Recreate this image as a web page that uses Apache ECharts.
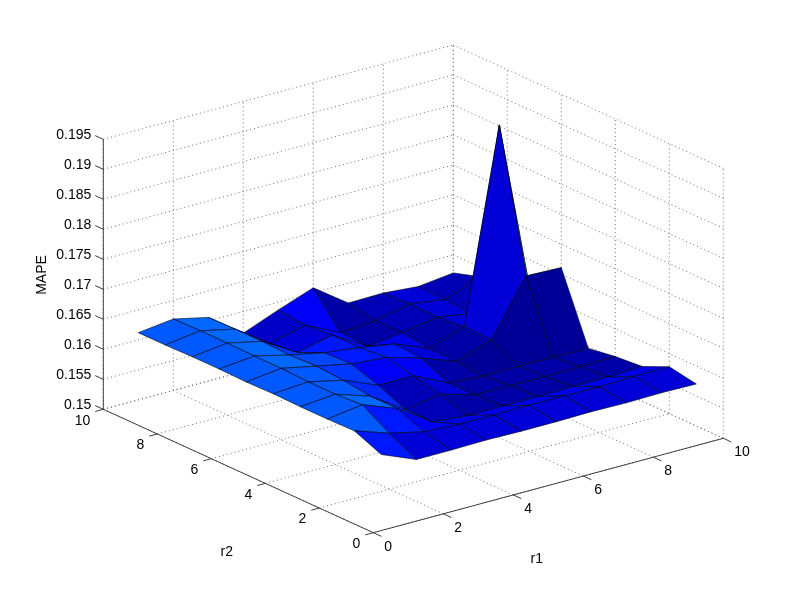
<!DOCTYPE html>
<html><head><meta charset="utf-8">
<style>html,body{margin:0;padding:0;background:#fff}#c{width:799px;height:599px}</style>
<script src="https://cdn.jsdelivr.net/npm/echarts@6/dist/echarts.min.js"></script>
</head><body><div id="c"></div>
<script>
// Axis ticks
const r1Ticks=[0,2,4,6,8,10];
const r2Ticks=[0,2,4,6,8,10];
const zTicks=[0.15,0.155,0.16,0.165,0.17,0.175,0.18,0.185,0.19,0.195];
const zTickLabels=['0.15','0.155','0.16','0.165','0.17','0.175','0.18','0.185','0.19','0.195'];
const r1Values=[1,2,3,4,5,6,7,8,9,10];
const r2Values=[1,2,3,4,5,6,7,8,9,10];
// MAPE for each r1, listed for r2 = 1..10
const mapeR1_1=[.1594,.1613,.1612,.1612,.1613,.1612,.1613,.1613,.1612,.1612];
const mapeR1_2=[.157,.1593,.162,.1617,.1617,.1619,.1619,.162,.162,.1619];
const mapeR1_3=[.157,.158,.1598,.1598,.1604,.1607,.1605,.1607,.1607,.1606];
const mapeR1_4=[.1571,.1577,.156,.156,.158,.1595,.1593,.1573,.1567,.1564];
const mapeR1_5=[.157,.1576,.1555,.157,.158,.159,.1586,.1586,.1582,.1587];
const mapeR1_6=[.157,.1577,.1555,.1553,.1552,.1573,.1576,.1552,.1554,.1608];
const mapeR1_7=[.1571,.1577,.1555,.1553,.1548,.1552,.1553,.1559,.1558,.1567];
const mapeR1_8=[.157,.1576,.1556,.1552,.1549,.1572,.1573,.1569,.157,.1568];
const mapeR1_9=[.1571,.1578,.1556,.1553,.1548,.1663,.1894,.1559,.1562,.1563];
const mapeR1_10=[.157,.1578,.1558,.1554,.1547,.1661,.1565,.154,.1584,.157];
const mape=[mapeR1_1,mapeR1_2,mapeR1_3,mapeR1_4,mapeR1_5,mapeR1_6,mapeR1_7,mapeR1_8,mapeR1_9,mapeR1_10];

// Orthographic view of the 3D box
const view={ox:373.3,oy:532.7,r1x:35,r1y:-9.44,r2x:-27,r2y:-12.34,zy:-6000,z0:0.15};
function project(r1,r2,z){
  return [view.ox+view.r1x*r1+view.r2x*r2, view.oy+view.r1y*r1+view.r2y*r2+view.zy*(z-view.z0)];
}
// jet colormap, 64 levels
function jet(t){
  t=Math.max(0,Math.min(1,t));
  t=(Math.min(63,Math.floor(t*64))+0.5)/64;
  const f=v=>Math.round(255*Math.max(0,Math.min(1,v)));
  return 'rgb('+f(1.5-Math.abs(4*t-3))+','+f(1.5-Math.abs(4*t-2))+','+f(1.5-Math.abs(4*t-1))+')';
}
const allZ=mape.flat(), cmin=Math.min(...allZ), cmax=Math.max(...allZ);

// faces, painted back to front
const faces=[];
for(let i=0;i<9;i++)for(let j=0;j<9;j++){
  faces.push([r1Values[i],r2Values[j],r1Values[i+1],r2Values[j+1],mape[i][j],mape[i+1][j],mape[i+1][j+1],mape[i][j+1]]);
}
faces.sort((a,b)=>(b[0]+b[1])-(a[0]+a[1]));

const R1MAX=10,R2MAX=10,R1MIN=0,R2MIN=0,ZMIN=zTicks[0],ZMAX=zTicks[zTicks.length-1];
const grids=[];
r1Ticks.forEach(t=>{ // floor and back wall
  grids.push([t,R2MIN,ZMIN,t,R2MAX,ZMIN]);
  grids.push([t,R2MAX,ZMIN,t,R2MAX,ZMAX]);
});
r2Ticks.forEach(t=>{
  grids.push([R1MIN,t,ZMIN,R1MAX,t,ZMIN]);
  grids.push([R1MAX,t,ZMIN,R1MAX,t,ZMAX]);
});
zTicks.forEach(t=>{
  grids.push([R1MIN,R2MAX,t,R1MAX,R2MAX,t]);
  grids.push([R1MAX,R2MAX,t,R1MAX,R2MIN,t]);
});
const axes=[[R1MIN,R2MIN,ZMIN,R1MAX,R2MIN,ZMIN],[R1MIN,R2MIN,ZMIN,R1MIN,R2MAX,ZMIN],[R1MIN,R2MAX,ZMIN,R1MIN,R2MAX,ZMAX]];
r1Ticks.forEach(t=>axes.push([t,R2MIN,ZMIN,t,R2MIN-0.3,ZMIN]));
r2Ticks.forEach(t=>axes.push([R1MIN,t,ZMIN,R1MIN-0.23,t,ZMIN]));
zTicks.forEach(t=>axes.push([R1MIN,R2MAX,t,R1MIN,R2MAX+0.3,t]));

const tickFont='14px "Liberation Sans", Arial, sans-serif';
const labels=[];
r1Ticks.forEach(t=>labels.push({p:[t,R2MIN,ZMIN],dx:11,dy:14,align:'left',text:String(t)}));
r2Ticks.forEach(t=>labels.push({p:[R1MIN,t,ZMIN],dx:-13,dy:11.5,align:'right',text:String(t)}));
zTicks.forEach((t,i)=>labels.push({p:[R1MIN,R2MAX,t],dx:-12,dy:-4.3,align:'right',text:zTickLabels[i]}));

function segSeries(data,style){
  return {type:'custom',coordinateSystem:'cartesian2d',silent:true,clip:false,animation:false,data,
    renderItem(params,api){
      const a=api.coord(project(api.value(0),api.value(1),api.value(2)));
      const b=api.coord(project(api.value(3),api.value(4),api.value(5)));
      return {type:'line',shape:{x1:a[0],y1:a[1],x2:b[0],y2:b[1]},style};
    }};
}
const chart=echarts.init(document.getElementById('c'),null,{renderer:'canvas'});
chart.setOption({
  animation:false,backgroundColor:'#fff',
  grid:{left:0,right:0,top:0,bottom:0},
  xAxis:{type:'value',min:0,max:799,show:false},
  yAxis:{type:'value',min:0,max:599,inverse:true,show:false},
  series:[
    segSeries(grids,{stroke:'#707070',lineWidth:1,lineDash:[1,3],fill:null}),
    segSeries(axes,{stroke:'#404040',lineWidth:1,fill:null}),
    {type:'custom',coordinateSystem:'cartesian2d',silent:true,clip:false,animation:false,data:faces,
      renderItem(params,api){
        const i0=api.value(0),j0=api.value(1),i1=api.value(2),j1=api.value(3);
        const pts=[project(i0,j0,api.value(4)),project(i1,j0,api.value(5)),project(i1,j1,api.value(6)),project(i0,j1,api.value(7))].map(p=>api.coord(p));
        return {type:'polygon',shape:{points:pts},style:{fill:jet((api.value(4)-cmin)/(cmax-cmin)),stroke:'#000010',lineWidth:0.6}};
      }},
    {type:'custom',coordinateSystem:'cartesian2d',silent:true,clip:false,animation:false,data:labels.map((l,i)=>[i]),
      renderItem(params,api){
        const l=labels[params.dataIndex];
        const c=api.coord(project(l.p[0],l.p[1],l.p[2]));
        return {type:'text',x:c[0]+l.dx,y:c[1]+l.dy,style:{text:l.text,font:tickFont,fill:'#000',textAlign:l.align,textVerticalAlign:'middle'}};
      }}
  ],
  graphic:[
    {type:'text',x:536.7,y:559.3,silent:true,style:{text:'r1',font:tickFont,fill:'#000',textAlign:'center',textVerticalAlign:'middle'}},
    {type:'text',x:226.7,y:552.3,silent:true,style:{text:'r2',font:tickFont,fill:'#000',textAlign:'center',textVerticalAlign:'middle'}},
    {type:'text',x:42.5,y:275,rotation:Math.PI/2,silent:true,style:{text:'MAPE',font:tickFont,fill:'#000',textAlign:'center',textVerticalAlign:'middle'}}
  ]
});
</script></body></html>
